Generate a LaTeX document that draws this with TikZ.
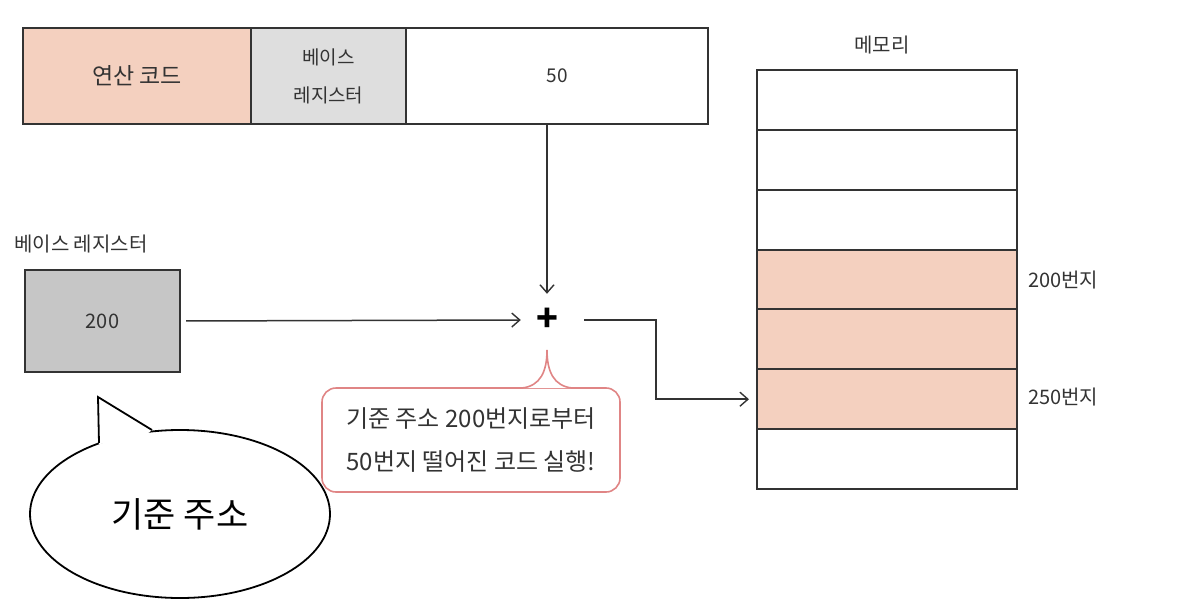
\documentclass[tikz,border=0pt]{standalone}
\usepackage{fontspec}
\setmainfont{Noto Sans CJK KR}
\usetikzlibrary{arrows.meta,shapes.geometric}

\definecolor{opfill}{HTML}{F4D0BF}
\definecolor{regfill}{HTML}{DEDEDE}
\definecolor{basefill}{HTML}{C6C6C6}
\definecolor{notered}{HTML}{E08585}
\definecolor{inkgray}{HTML}{333333}

\tikzset{
  >={Straight Barb[length=8pt,width=14pt,line width=1.4pt]},   % 열린 화살촉
  cell/.style={draw=inkgray, line width=2pt, inner sep=0pt, minimum height=96pt,
               text=inkgray, font=\fontsize{23}{27}\selectfont, align=center},
  memcell/.style={draw=inkgray, line width=2pt, inner sep=0pt, minimum width=260pt,
                  minimum height=59.86pt},
  lbl/.style={text=inkgray, font=\fontsize{20}{24}\selectfont, inner sep=0pt}
}

\begin{document}
\begin{tikzpicture}[x=1pt, y=-1pt]
\useasboundingbox (0,0) rectangle (1177,615);

%==================== 명령어 ====================
\node[cell, fill=opfill, minimum width=228pt] (op) at (137,76) {연산 코드};
\node[cell, fill=regfill, minimum width=155pt, font=\fontsize{19}{38}\selectfont] (breg) at (328.5,76) {베이스\\레지스터};
\node[cell, fill=white, minimum width=302pt, font=\fontsize{19}{22}\selectfont] (disp) at (557,76) {50};

%==================== 베이스 레지스터 ====================
\node[lbl, anchor=west] (baselbl) at (14,244) {베이스 레지스터};
\node[cell, fill=basefill, minimum width=155pt, minimum height=102pt,
      font=\fontsize{20}{24}\selectfont] (base) at (102.5,321) {200};

% 덧셈
\node[minimum size=52pt, inner sep=0pt, text=black,
      font=\fontsize{36}{36}\bfseries] (plus) at (547,320) {+};

%==================== 메모리 ====================
\node[lbl] (memlbl) at (882,45) {메모리};
\foreach \i in {1,...,7}{
  \ifnum\i>3 \ifnum\i<7 \def\cfill{opfill}\else\def\cfill{white}\fi\else\def\cfill{white}\fi
  \node[memcell, fill=\cfill] (m\i) at (887,{70+59.86*(\i-0.5)}) {};
}
\node[lbl, anchor=west] (a200) at (1028,280) {200번지};
\node[lbl, anchor=west] (a250) at (1028,397) {250번지};

% 화살표
\draw[->, inkgray, line width=1.5pt] (disp.south -| plus) -- (plus.north);
\draw[->, inkgray, line width=1.5pt, shorten <=5pt] (base.east) -- (plus.west);
\draw[->, inkgray, line width=1.5pt, shorten <=11pt, shorten >=7pt]
    (plus.east) -- ++(83,0) |- (m6.west);

%==================== 말풍선 ====================
\node[draw=notered, line width=1.6pt, rounded corners=14pt, fill=white,
      minimum width=298pt, minimum height=104pt, align=center, text=inkgray,
      font=\fontsize{24}{43}\selectfont] (note) at (471,440)
      {기준 주소 200번지로부터\\50번지 떨어진 코드 실행!};
\fill[white] (523,388) .. controls (540,386) and (547,372) .. (547,350)
    .. controls (547,372) and (554,386) .. (571,388) -- cycle;
\draw[notered, line width=1.6pt] (522,388) .. controls (540,386) and (547,372) .. (547,350)
    .. controls (547,372) and (554,386) .. (572,388);

% 기준 주소
\node[draw=black, ellipse, line width=1.8pt, minimum width=300pt, minimum height=168pt,
      font=\fontsize{35}{40}\selectfont] (bubble) at (180,514) {기준 주소};
\fill[white] (99,444) -- (98,397) -- (152,430) -- (140,440) -- cycle;
\draw[line width=1.8pt] (99,443) -- (98,397) -- (152,430);

\end{tikzpicture}
\end{document}
